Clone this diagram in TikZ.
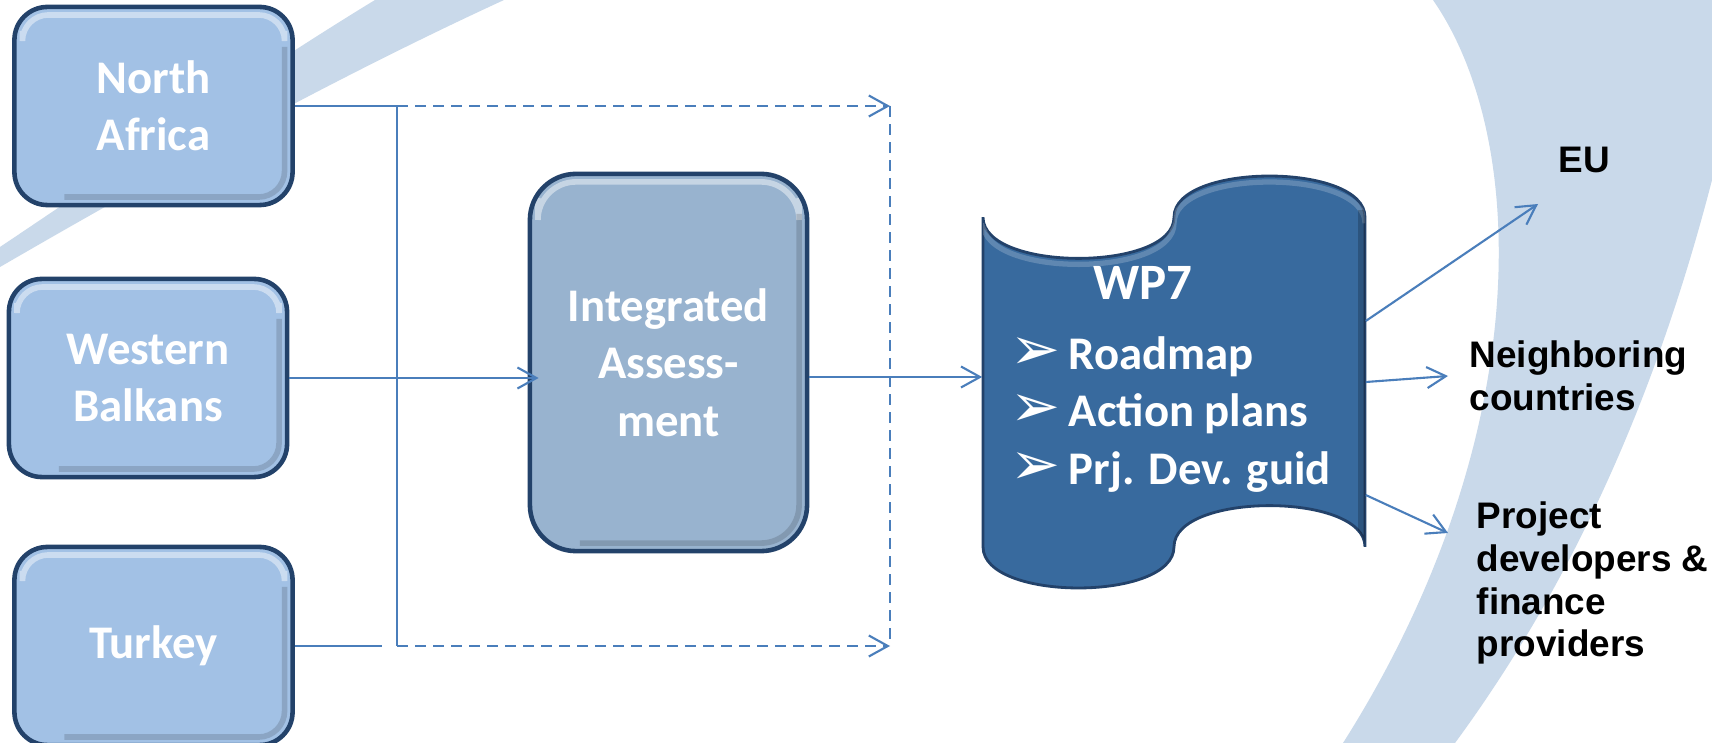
\documentclass[tikz,border=0pt]{standalone}
\usepackage{fontspec}
\usetikzlibrary{arrows.meta}
\newfontfamily\boxfamily{Carlito}
\newfontfamily\labelfamily{Liberation Sans}
\newfontfamily\dingfamily{DejaVu Sans}

\definecolor{bandblue}{HTML}{C9D9EA}
\definecolor{regionfill}{HTML}{A2C1E5}
\definecolor{assessfill}{HTML}{98B3CF}
\definecolor{wpfill}{HTML}{386A9E}
\definecolor{boxedge}{HTML}{23426A}
\definecolor{linkblue}{HTML}{4A7EBB}

\newcommand{\wpbul}{\makebox[0.58cm][l]{\dingfamily\fontsize{17}{17}\selectfont ➢}}

\tikzset{
  bevel/.style={path picture={
    \draw[white, opacity=0.45, line width=1.6pt, rounded corners=#1]
      ([xshift=0.8mm,yshift=-2.4mm]path picture bounding box.north west) |-
      ([xshift=-0.8mm,yshift=-0.8mm]path picture bounding box.north east) --
      ([xshift=-0.8mm,yshift=-2.4mm]path picture bounding box.north east);
    \draw[black, opacity=0.14, line width=1.6pt, rounded corners=#1]
      ([xshift=-0.8mm,yshift=-4mm]path picture bounding box.north east) |-
      ([xshift=5mm,yshift=0.8mm]path picture bounding box.south west);
  }},
  regionbox/.style={rectangle, rounded corners=0.33cm, draw=boxedge, line width=1.3pt,
    fill=regionfill, minimum width=2.78cm, minimum height=1.98cm, inner sep=0pt,
    text=white, align=center, font=\boxfamily\bfseries\fontsize{13.3}{16.3}\selectfont,
    bevel=2.6mm},
  assessbox/.style={regionbox, fill=assessfill, rounded corners=0.46cm,
    minimum width=2.77cm, minimum height=3.77cm, bevel=3.8mm},
  wptape/.style={fill=wpfill, draw=boxedge, line width=0.8pt},
  wptext/.style={text=white, inner sep=0pt, font=\boxfamily\bfseries\fontsize{13.3}{16.3}\selectfont},
  outlabel/.style={text=black, inner sep=0pt, align=left,
    font=\labelfamily\bfseries\fontsize{10.5}{12.2}\selectfont},
  linkline/.style={draw=linkblue, line width=0.6pt},
  linkarrow/.style={linkline, -{Straight Barb[length=1.9mm,width=2.1mm]}},
  dashline/.style={linkline, dash pattern=on 1.1mm off 0.7mm},
  dasharrow/.style={dashline, -{Straight Barb[length=1.9mm,width=2.1mm]}}
}

\begin{document}
\begin{tikzpicture}[x=0.01cm, y=-0.01cm]
\useasboundingbox (0,0) rectangle (1712,743);
\clip (0,0) rectangle (1712,743);
\fill[white] (0,0) rectangle (1712,743);

% background swooshes
\fill[bandblue] (0,247) .. controls (115,170) and (260,70) .. (375,0) -- (504,0)
  .. controls (330,80) and (150,180) .. (0,267) -- cycle;
\fill[bandblue] (1433,0) .. controls (1530,140) and (1535,440) .. (1343,743) -- (1455,743)
  .. controls (1560,600) and (1650,420) .. (1712,180) -- (1712,0) -- cycle;

% regions
\node[regionbox] (na) at (153.5,106) {North\\Africa};
\node[regionbox] (wb) at (148,378) {Western\\Balkans};
\node[regionbox] (tr) at (153.5,646) {Turkey};

\node[assessbox] (ia) at (668.5,362.5) {Integrated\\Assess-\\ment};

% WP7 tape
\node[minimum width=3.82cm, minimum height=4.12cm, inner sep=0pt] (wp) at (1174,382) {};
\draw[wptape] (983,217.2) .. controls (983,272.1) and (1174,272.1) .. (1174,217.2)
  .. controls (1174,162.3) and (1365,162.3) .. (1365,217.2) -- (1365,546.8)
  .. controls (1365,491.9) and (1174,491.9) .. (1174,546.8)
  .. controls (1174,601.7) and (983,601.7) .. (983,546.8) -- cycle;
\begin{scope}
\clip (983,217.2) .. controls (983,272.1) and (1174,272.1) .. (1174,217.2)
  .. controls (1174,162.3) and (1365,162.3) .. (1365,217.2) -- (1365,546.8)
  .. controls (1365,491.9) and (1174,491.9) .. (1174,546.8)
  .. controls (1174,601.7) and (983,601.7) .. (983,546.8) -- cycle;
\draw[white, opacity=0.2, line width=1.5pt] (983,223.2) .. controls (983,278.1) and (1174,278.1) .. (1174,223.2)
  .. controls (1174,168.3) and (1365,168.3) .. (1365,223.2);
\draw[black, opacity=0.2, line width=2pt] (1361,210) -- (1361,560);
\end{scope}

\node[wptext, anchor=base, font=\boxfamily\bfseries\fontsize{14.5}{16}\selectfont] (wptitle) at (1143,300) {WP7};
\node[wptext, anchor=base west] (wpa) at (1010,370) {\wpbul Roadmap};
\node[wptext, anchor=base west] (wpb) at (1010,427) {\wpbul Action plans};
\node[wptext, anchor=base west] (wpc) at (1010,485) {\wpbul Prj. Dev. guid};

% audiences
\node[outlabel, anchor=base] (eu) at (1584,173) {EU};
\node[outlabel, anchor=west] (nb) at (1469,376) {Neighboring\\countries};
\node[outlabel, anchor=west] (pj) at (1476,583) {Project\\developers \&\\finance\\providers};

% connectors
\coordinate (jt) at (397,106);
\coordinate (jb) at (397,646);
\coordinate (dt) at (890,106);
\coordinate (db) at (890,646);
\coordinate (tkend) at (382,646);
\coordinate (iain) at ([xshift=1.1mm]ia.west);
\coordinate (wpin) at ([yshift=0.5mm]wp.west);
\coordinate (eutip) at (1538,204);
\coordinate (nbtip) at (1448,376);
\coordinate (pjtip) at (1448,533);

\draw[linkline] (na.east) -- (jt) -- (jb);
\draw[linkline] (tr.east) -- (tkend);
\draw[dasharrow] (jt) -- (dt);
\draw[dasharrow] (jb) -- (db);
\draw[dashline] (dt) -- (db);
\draw[linkarrow] (wb.east) -- (wb.east -| iain);
\draw[linkarrow] (ia.east |- wpin) -- (wpin);
\draw[linkarrow] ([yshift=6.1mm]wp.east) -- (eutip);
\draw[linkarrow] (wp.east) -- (nbtip);
\draw[linkarrow] ([yshift=-11.3mm]wp.east) -- (pjtip);
\end{tikzpicture}
\end{document}
